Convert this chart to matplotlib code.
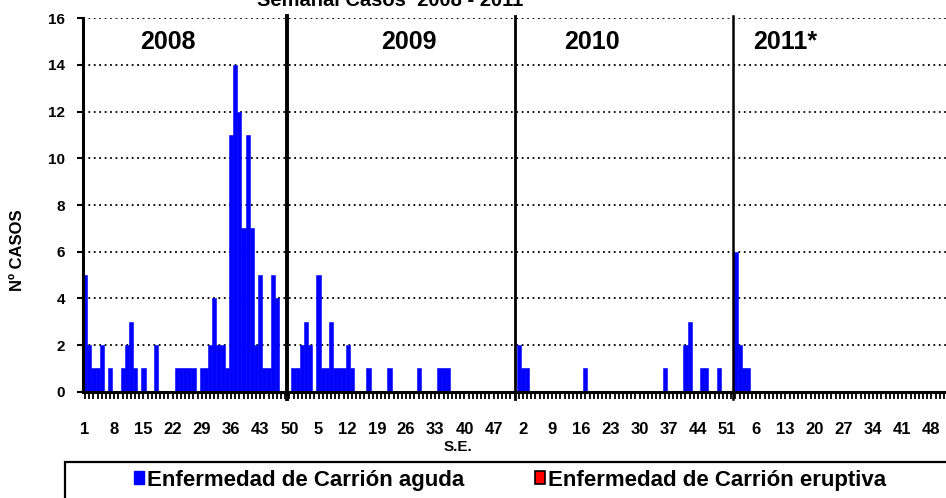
import matplotlib
matplotlib.use('Agg')
import matplotlib.pyplot as plt
from matplotlib.patches import Rectangle, Patch
import numpy as np

plt.rcParams['font.family'] = ['Liberation Sans', 'DejaVu Sans']
plt.rcParams['font.weight'] = 'bold'

# ---- data (weekly cases, by epidemiological week) ----
years = ['2008', '2009', '2010', '2011*']
aguda_2008 = [5, 2, 1, 1, 2, 0, 1, 0, 0, 1, 2, 3, 1, 0, 1, 0, 0, 2, 0, 0,
              0, 0, 1, 1, 1, 1, 1, 0, 1, 1, 2, 4, 2, 2, 1, 11, 14, 12, 7, 11,
              7, 2, 5, 1, 1, 5, 4, 0, 0, 0, 1, 1]
aguda_2009 = [2, 3, 2, 0, 5, 1, 1, 3, 1, 1, 1, 2, 1, 0, 0, 0, 1, 0, 0, 0,
              0, 1, 0, 0, 0, 0, 0, 0, 1, 0, 0, 0, 0, 1, 1, 1, 0, 0, 0, 0,
              0, 0, 0, 0, 0, 0, 0, 0, 0, 0, 0, 0]
aguda_2010 = [2, 1, 1, 0, 0, 0, 0, 0, 0, 0, 0, 0, 0, 0, 0, 0, 1, 0, 0, 0,
              0, 0, 0, 0, 0, 0, 0, 0, 0, 0, 0, 0, 0, 0, 0, 1, 0, 0, 0, 0,
              2, 3, 0, 0, 1, 1, 0, 0, 1, 0, 0, 0]
aguda_2011 = [6, 2, 1, 1] + [0] * 47
eruptiva = [0] * (len(aguda_2008) + len(aguda_2009) + len(aguda_2010) + len(aguda_2011))
tick_labels = ['1', '8', '15', '22', '29', '36', '43', '50', '5', '12', '19', '26',
               '33', '40', '47', '2', '9', '16', '23', '30', '37', '44', '51', '6',
               '13', '20', '27', '34', '41', '48']
legend_labels = ['Enfermedad de Carrión aguda', 'Enfermedad de Carrión eruptiva']

# ---- build ----
aguda = np.array(aguda_2008 + aguda_2009 + aguda_2010 + aguda_2011, dtype=float)
n = len(aguda)
x = np.arange(n)

W, H = 946, 498
fig = plt.figure(figsize=(W / 100, H / 100), dpi=100)
ax = fig.add_axes([83 / W, 1 - 391.7 / H, (946 - 83) / W, (391.7 - 18.3) / H])

ax.bar(x, aguda, width=1.0, color='#0000FF', edgecolor='#0000FF', linewidth=0.4, zorder=3)
ax.bar(x, eruptiva, width=1.0, bottom=aguda, color='#FF0000', linewidth=0, zorder=3)

ax.set_xlim(-0.5, n - 0.5)
ax.set_ylim(0, 16)
ax.set_yticks(np.arange(0, 17, 2))
ax.set_yticklabels([str(v) for v in range(0, 17, 2)], fontsize=11, fontweight='bold')

ax.set_xticks(np.arange(0, n, 7)[:len(tick_labels)])
ax.set_xticklabels(tick_labels, fontsize=12, fontweight='bold')
ax.set_xticks(x, minor=True)
ax.tick_params(axis='x', which='both', direction='out', length=5, width=1.3, pad=17, color='black')
ax.tick_params(axis='y', which='major', direction='out', length=4, width=1.5, pad=9)

for s in ['top', 'right']:
    ax.spines[s].set_visible(False)
ax.spines['left'].set_linewidth(2.2)
ax.spines['bottom'].set_linewidth(2.2)
ax.spines['left'].set_zorder(5)
ax.spines['bottom'].set_zorder(5)

for v in range(2, 17, 2):
    ax.axhline(v, color='black', linestyle=(0, (1, 2)), linewidth=1.3, zorder=1)

# year separators
sep_pos = [48.4, 103.1, 155.4]
sep_w = [2.8, 2.0, 1.8]
for p, lw in zip(sep_pos, sep_w):
    ax.plot([p, p], [-0.3, 16.1], color='black', linewidth=lw, zorder=4, clip_on=False)

# year labels
year_x = [19.9, 77.7, 121.6, 168.0]
for yl, xp in zip(years, year_x):
    ax.text(xp, 15.0, yl, ha='center', va='center', fontsize=18, fontweight='bold', zorder=6)

# title (partially clipped at top)
fig.text(390 / W, 1 - 6 / H, 'Semanal Casos  2008 - 2011', ha='center', va='baseline',
         fontsize=14.5, fontweight='bold')

fig.text(18 / W, 1 - 250 / H, 'Nº CASOS', rotation=90, ha='center', va='center',
         fontsize=12, fontweight='bold')
fig.text(458 / W, 1 - 447 / H, 'S.E.', ha='center', va='center', fontsize=11, fontweight='bold')

# legend box
rect = Rectangle((65 / W, -0.2), 2.0, (1 - 462 / H) + 0.2, transform=fig.transFigure,
                 facecolor='white', edgecolor='black', linewidth=1.6, zorder=0)
fig.patches.append(rect)
handles = [Patch(facecolor='#0000FF', edgecolor='#0000FF'),
           Patch(facecolor='#FF0000', edgecolor='black', linewidth=1.2)]
leg = fig.legend(handles, legend_labels, ncol=2, loc='center left',
                 bbox_to_anchor=(134 / W, 1 - 480 / H), frameon=False,
                 fontsize=16, handlelength=0.45, handleheight=0.55, handletextpad=0.15,
                 columnspacing=3.15, borderpad=0, borderaxespad=0)
for t in leg.get_texts():
    t.set_fontweight('bold')

fig.savefig('out.png', dpi=100)
